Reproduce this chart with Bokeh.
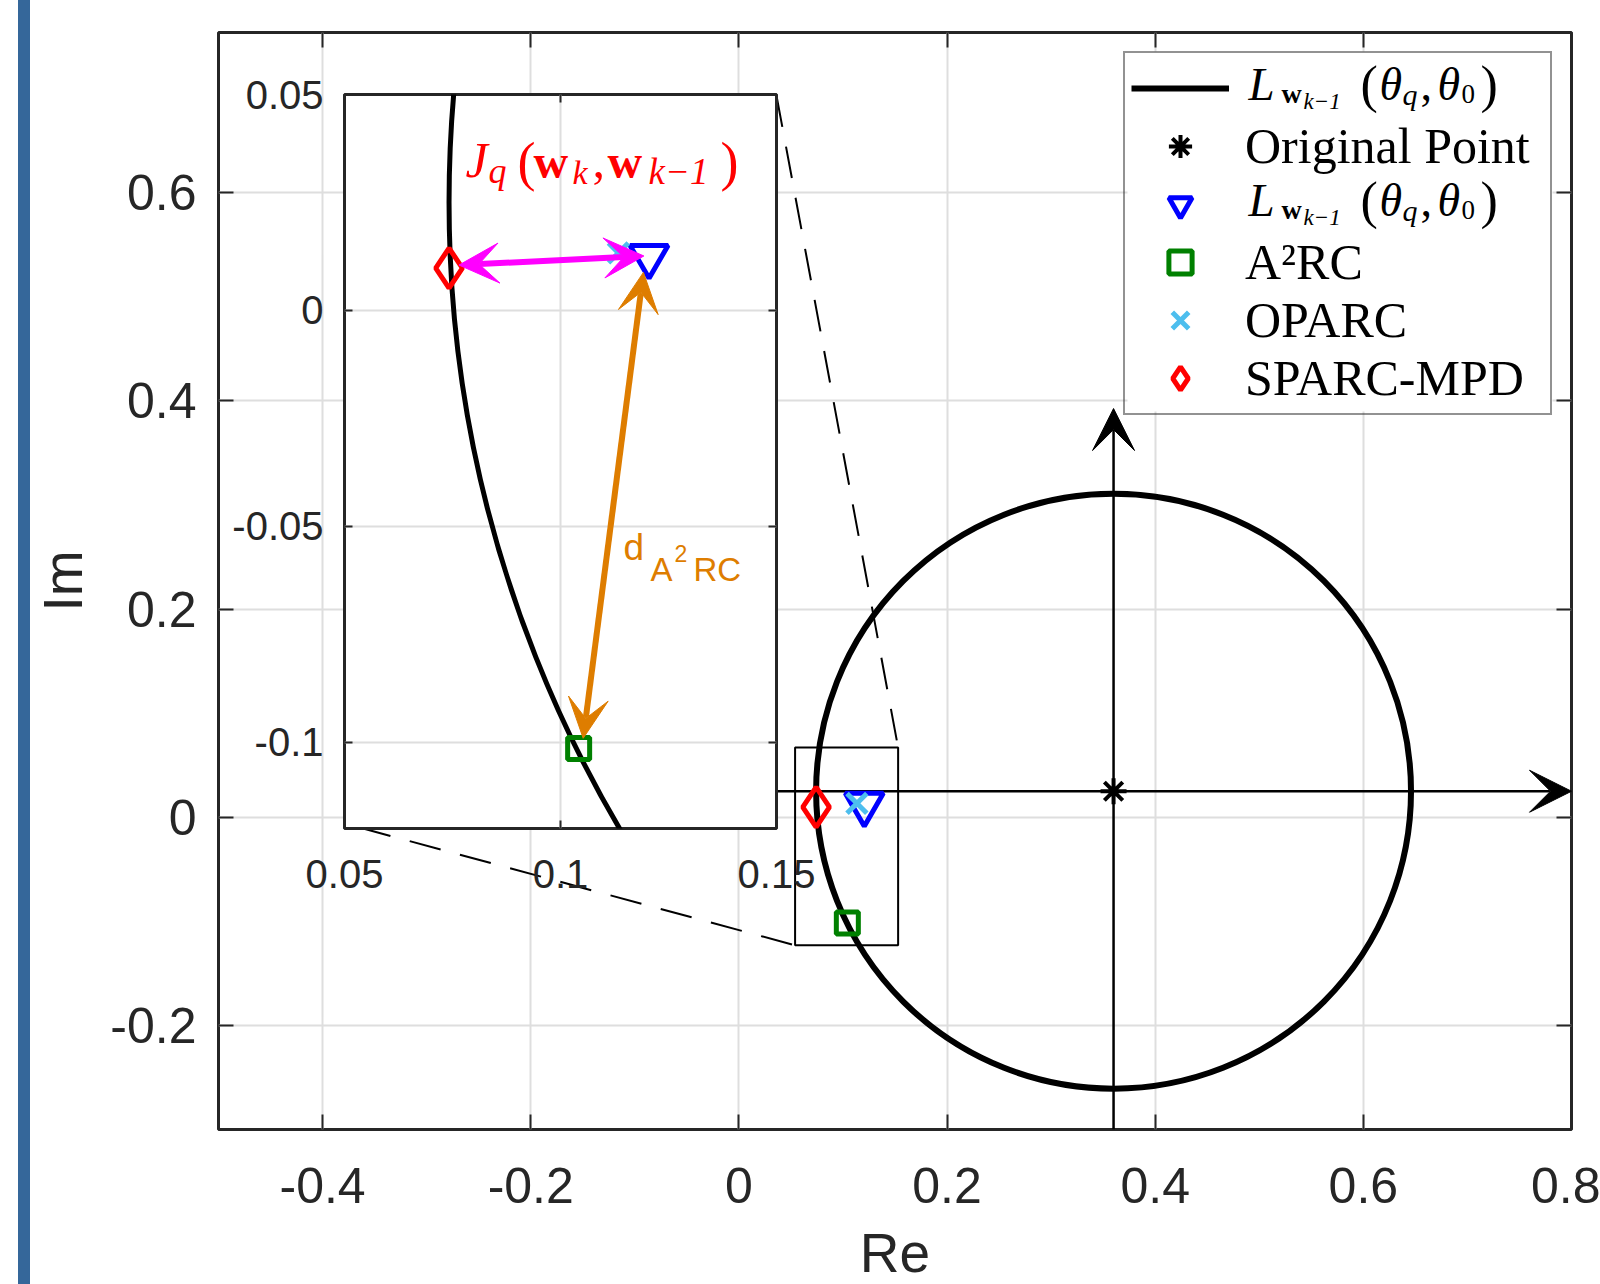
import numpy as np
from bokeh.plotting import figure
from bokeh.models import (Range1d, LinearAxis, FixedTicker, CustomJSTickFormatter, Legend,
                          LegendItem, Arrow, VeeHead, Label, Spacer, Row, BoxAnnotation)
from bokeh.embed import file_html
from bokeh.resources import INLINE

# ---------------- data ----------------
circle_x = [0.36]
circle_y = [0.025]
circle_r = [0.2858]

orig_x = [0.36]
orig_y = [0.025]
lw_x = [0.1205]
lw_y = [0.0125]
a2rc_x = [0.1042]
a2rc_y = [-0.1015]
oparc_x = [0.1134]
oparc_y = [0.0133]
sparc_x = [0.0742]
sparc_y = [0.0098]

x_ticks = [-0.4, -0.2, 0.0, 0.2, 0.4, 0.6, 0.8]
y_ticks = [-0.2, 0.0, 0.2, 0.4, 0.6]
inset_x_ticks = [0.05, 0.1, 0.15]
inset_y_ticks = [-0.1, -0.05, 0.0, 0.05]

zoom_left = [0.054]
zoom_right = [0.153]
zoom_bottom = [-0.123]
zoom_top = [0.067]
conn_x0 = [0.0361, -0.3645]
conn_y0 = [0.6935, -0.0099]
conn_x1 = [0.153, 0.054]
conn_y1 = [0.067, -0.123]

re_axis_x = [0.031, 0.8]
re_axis_y = [0.025, 0.025]
im_axis_x = [0.36, 0.36]
im_axis_y = [-0.3, 0.3927]

jq_arrow_x = [0.0765, 0.1193]
jq_arrow_y = [0.0105, 0.0126]
d_arrow_x = [0.1192, 0.10525]
d_arrow_y = [0.0088, -0.0991]

legend_labels = [" ", "Original Point", "  ", "A\u00b2RC", "OPARC", "SPARC-MPD"]

# ---------------- colours / styles ----------------
AX = "#262626"
GRID = "#DEDEDE"
BLUE = "#0000FF"
GREEN = "#008000"
LBLUE = "#4DBEEE"
RED = "#FF0000"
MAGENTA = "#FF00FF"
ORANGE = "#DE7D00"
SANS = "Liberation Sans"
SERIF = "Liberation Serif"

# main geometry (page pixels)
M_FW, M_FH = 1353, 1097
M_PPU = M_FW / 1.3
M_FL, M_FT = 218, 32
# inset geometry
I_FW, I_FH = 432, 734
I_PPU = I_FW / 0.1
I_FL, I_FT = 344, 95
MID = 0.34  # baseline -> middle offset (em)


def mx(px):
    return -0.5 + (px - M_FL) / M_PPU


def my(py):
    return 0.754 - (py - M_FT) / M_PPU


def ix(px):
    return 0.05 + (px - I_FL) / I_PPU


def iy(py):
    return 0.05 - (py - I_FT) / I_PPU


def style_axis(ax, ticks, size, standoff, tick_in, labels=True):
    ax.ticker = FixedTicker(ticks=ticks)
    ax.axis_line_color = None
    ax.major_tick_in = tick_in
    ax.major_tick_out = 0
    ax.minor_tick_line_color = None
    ax.major_tick_line_color = AX
    ax.major_tick_line_width = 2
    if labels:
        ax.formatter = CustomJSTickFormatter(
            code="return (Math.round(tick*10000)/10000).toString();")
        ax.major_label_text_font = SANS
        ax.major_label_text_font_size = size
        ax.major_label_text_color = AX
        ax.major_label_standoff = standoff
    else:
        ax.formatter = CustomJSTickFormatter(code="return '';")
        ax.major_label_standoff = 0
        ax.major_label_text_font_size = "1px"


def setup(fig, xt, yt, size, sx, sy, tick_in):
    bottom = fig.below[0]
    left = fig.left[0]
    style_axis(bottom, xt, size, sx, tick_in)
    style_axis(left, yt, size, sy, tick_in)
    top = LinearAxis()
    right = LinearAxis()
    style_axis(top, xt, size, 0, tick_in, labels=False)
    style_axis(right, yt, size, 0, tick_in, labels=False)
    fig.add_layout(top, "above")
    fig.add_layout(right, "right")
    fig.xgrid.ticker = FixedTicker(ticks=xt)
    fig.ygrid.ticker = FixedTicker(ticks=yt)
    for g in (fig.xgrid, fig.ygrid):
        g.grid_line_color = GRID
        g.grid_line_width = 2
    fig.outline_line_color = AX
    fig.outline_line_width = 3
    fig.outline_line_alpha = 1
    return bottom, left


# ---------------- main figure ----------------
main = figure(x_range=Range1d(-0.5, 0.8), y_range=Range1d(-0.3, 0.754),
              frame_width=M_FW, frame_height=M_FH,
              min_border_left=M_FL, min_border_right=1600 - M_FL - M_FW,
              min_border_top=M_FT, min_border_bottom=1284 - M_FT - M_FH,
              output_backend="svg", toolbar_location=None,
              title=None, x_axis_label="Re", y_axis_label="Im")
main.background_fill_color = "white"
main.border_fill_color = "white"
xb, yl = setup(main, x_ticks, y_ticks, "50px", 38, 22, 15)
for ax in (xb, yl):
    ax.axis_label_text_font = SANS
    ax.axis_label_text_font_size = "55px"
    ax.axis_label_text_font_style = "normal"
    ax.axis_label_text_color = AX
xb.axis_label_standoff = 16
yl.axis_label_standoff = 13

# legend geometry (page pixels)
G, PAD, SPC, MARG = 58, 6, 0, 19
GW, LST, LW = 98, 16, 299
LEG_R = M_FL + M_FW - MARG
LEG_L = LEG_R - (2 * PAD + GW + LST + LW)
LEG_T = M_FT + MARG
LEG_B = LEG_T + 2 * PAD + 6 * G

# white backing of the legend box (hides grid lines)
main.add_layout(BoxAnnotation(left=mx(LEG_L), right=mx(LEG_R), top=my(LEG_T), bottom=my(LEG_B),
                              fill_color="white", fill_alpha=1, line_color=None,
                              level="underlay"))

# axis arrows (under markers)
main.add_layout(Arrow(end=VeeHead(size=42, fill_color="black", line_color="black", line_width=1),
                      x_start=re_axis_x[0], y_start=re_axis_y[0],
                      x_end=re_axis_x[1], y_end=re_axis_y[1],
                      line_width=2.5, line_color="black", level="underlay"))
main.add_layout(Arrow(end=VeeHead(size=42, fill_color="black", line_color="black", line_width=1),
                      x_start=im_axis_x[0], y_start=im_axis_y[0],
                      x_end=im_axis_x[1], y_end=im_axis_y[1],
                      line_width=2.5, line_color="black", level="underlay"))

r_circle = main.arc(x=circle_x, y=circle_y, radius=circle_r, start_angle=0,
                    end_angle=2 * np.pi, line_color="black", line_width=6)
main.quad(left=zoom_left, right=zoom_right, bottom=zoom_bottom, top=zoom_top,
          fill_color=None, line_color="black", line_width=2)
main.segment(x0=conn_x0, y0=conn_y0, x1=conn_x1, y1=conn_y1, line_color="black",
             line_width=2, line_dash="32 20")

r_orig = main.scatter(orig_x, orig_y, marker="asterisk", size=26, line_color="black", line_width=4)
r_lw = main.scatter(lw_x, lw_y, marker="inverted_triangle", size=38, line_color=BLUE,
                    fill_color=None, line_width=5)
r_a2 = main.scatter(a2rc_x, a2rc_y, marker="square", size=22, line_color=GREEN,
                    fill_color=None, line_width=5)
r_op = main.scatter(oparc_x, oparc_y, marker="x", size=28, line_color=LBLUE, line_width=5)
r_sp = main.scatter(sparc_x, sparc_y, marker="diamond", size=40, line_color=RED,
                    fill_color=None, line_width=5)

legend = Legend(items=[LegendItem(label=legend_labels[0], renderers=[r_circle]),
                       LegendItem(label=legend_labels[1], renderers=[r_orig]),
                       LegendItem(label=legend_labels[2], renderers=[r_lw]),
                       LegendItem(label=legend_labels[3], renderers=[r_a2]),
                       LegendItem(label=legend_labels[4], renderers=[r_op]),
                       LegendItem(label=legend_labels[5], renderers=[r_sp])],
                location="top_right", margin=MARG, padding=PAD, spacing=SPC,
                glyph_height=G, label_height=G, glyph_width=GW, label_standoff=LST,
                label_width=LW, label_text_font=SERIF, label_text_font_size="50px",
                label_text_color="black", border_line_color=AX, border_line_width=2,
                background_fill_alpha=0)
main.add_layout(legend)

# math legend labels  L_{w_{k-1}}(θ_q, θ_0)
math_pieces = [("L", 1248, 0, 47, "italic"), ("w", 1281, 3, 28, "bold"),
               ("k\u22121", 1303, 9, 23, "italic"), ("(", 1360, 2, 52, "normal"),
               ("\u03b8", 1379, 0, 46, "italic"), ("q", 1402, 4, 30, "italic"),
               (",", 1420, 0, 46, "normal"), ("\u03b8", 1437, 0, 46, "italic"),
               ("0", 1461, 3, 27, "normal"), (")", 1480, 2, 52, "normal")]
for row_i in (0, 2):
    base = LEG_T + PAD + G / 2 + row_i * G + 13.8
    for t, px, dy, fs, st in math_pieces:
        main.add_layout(Label(x=mx(px), y=my(base + dy - MID * fs), text=t, text_font=SERIF,
                              text_font_size=f"{fs}px", text_font_style=st,
                              text_color="black", text_baseline="middle",
                              text_align="left", level="overlay"))

# ---------------- inset figure ----------------
inset = figure(x_range=Range1d(0.05, 0.15), y_range=Range1d(-0.12, 0.05),
               frame_width=I_FW, frame_height=I_FH,
               min_border_left=120, min_border_right=50, min_border_top=30,
               min_border_bottom=80, output_backend="svg", toolbar_location=None,
               title=None,
               styles={"position": "absolute", "left": f"{I_FL - 120}px",
                       "top": f"{I_FT - 33}px"})
inset.background_fill_color = "white"
inset.border_fill_color = None
setup(inset, inset_x_ticks, inset_y_ticks, "40px", 31, 21, 8)

inset.arc(x=circle_x, y=circle_y, radius=circle_r, start_angle=0, end_angle=2 * np.pi,
          line_color="black", line_width=5)
inset.scatter(lw_x, lw_y, marker="inverted_triangle", size=38, line_color=BLUE,
              fill_color=None, line_width=5)
inset.scatter(a2rc_x, a2rc_y, marker="square", size=22, line_color=GREEN,
              fill_color=None, line_width=5)
inset.scatter(oparc_x, oparc_y, marker="x", size=28, line_color=LBLUE, line_width=5)
inset.scatter(sparc_x, sparc_y, marker="diamond", size=40, line_color=RED,
              fill_color=None, line_width=5)

inset.add_layout(Arrow(start=VeeHead(size=40, fill_color=MAGENTA, line_color=MAGENTA, line_width=1),
                       end=VeeHead(size=40, fill_color=MAGENTA, line_color=MAGENTA, line_width=1),
                       x_start=jq_arrow_x[0], y_start=jq_arrow_y[0],
                       x_end=jq_arrow_x[1], y_end=jq_arrow_y[1],
                       line_width=6, line_color=MAGENTA))
inset.add_layout(Arrow(start=VeeHead(size=40, fill_color=ORANGE, line_color=ORANGE, line_width=1),
                       end=VeeHead(size=40, fill_color=ORANGE, line_color=ORANGE, line_width=1),
                       x_start=d_arrow_x[0], y_start=d_arrow_y[0],
                       x_end=d_arrow_x[1], y_end=d_arrow_y[1],
                       line_width=6, line_color=ORANGE))

# J_q(w_k, w_{k-1})
jq_pieces = [("J", 465, 178, 50, "italic"), ("q", 488, 184, 36, "italic"),
             ("(", 517, 181, 54, "normal"), ("w", 533, 178, 48, "bold"),
             ("k", 572, 185, 34, "italic"), (",", 592, 178, 50, "normal"),
             ("w", 607, 178, 48, "bold"), ("k\u22121", 648, 185, 37, "italic"),
             (")", 720, 181, 54, "normal")]
for t, px, py, fs, st in jq_pieces:
    inset.add_layout(Label(x=ix(px), y=iy(py - MID * fs), text=t, text_font=SERIF,
                           text_font_size=f"{fs}px", text_font_style=st, text_color=RED,
                           text_baseline="middle", text_align="left", level="overlay"))

# d_{A^2RC}
d_pieces = [("d", 623, 561, 37), ("A", 650, 581, 33), ("2", 674, 562, 23), ("RC", 693, 581, 33)]
for t, px, py, fs in d_pieces:
    inset.add_layout(Label(x=ix(px), y=iy(py - MID * fs), text=t, text_font=SANS,
                           text_font_size=f"{fs}px", text_color=ORANGE,
                           text_baseline="middle", text_align="left", level="overlay"))

# decorative side bar
bar = Spacer(width=12, height=1284,
             styles={"position": "absolute", "left": "18px", "top": "0px",
                     "background-color": "#35679A"})

layout = Row(children=[main, inset, bar], spacing=0)
open("out.html", "w").write(file_html(layout, INLINE))
